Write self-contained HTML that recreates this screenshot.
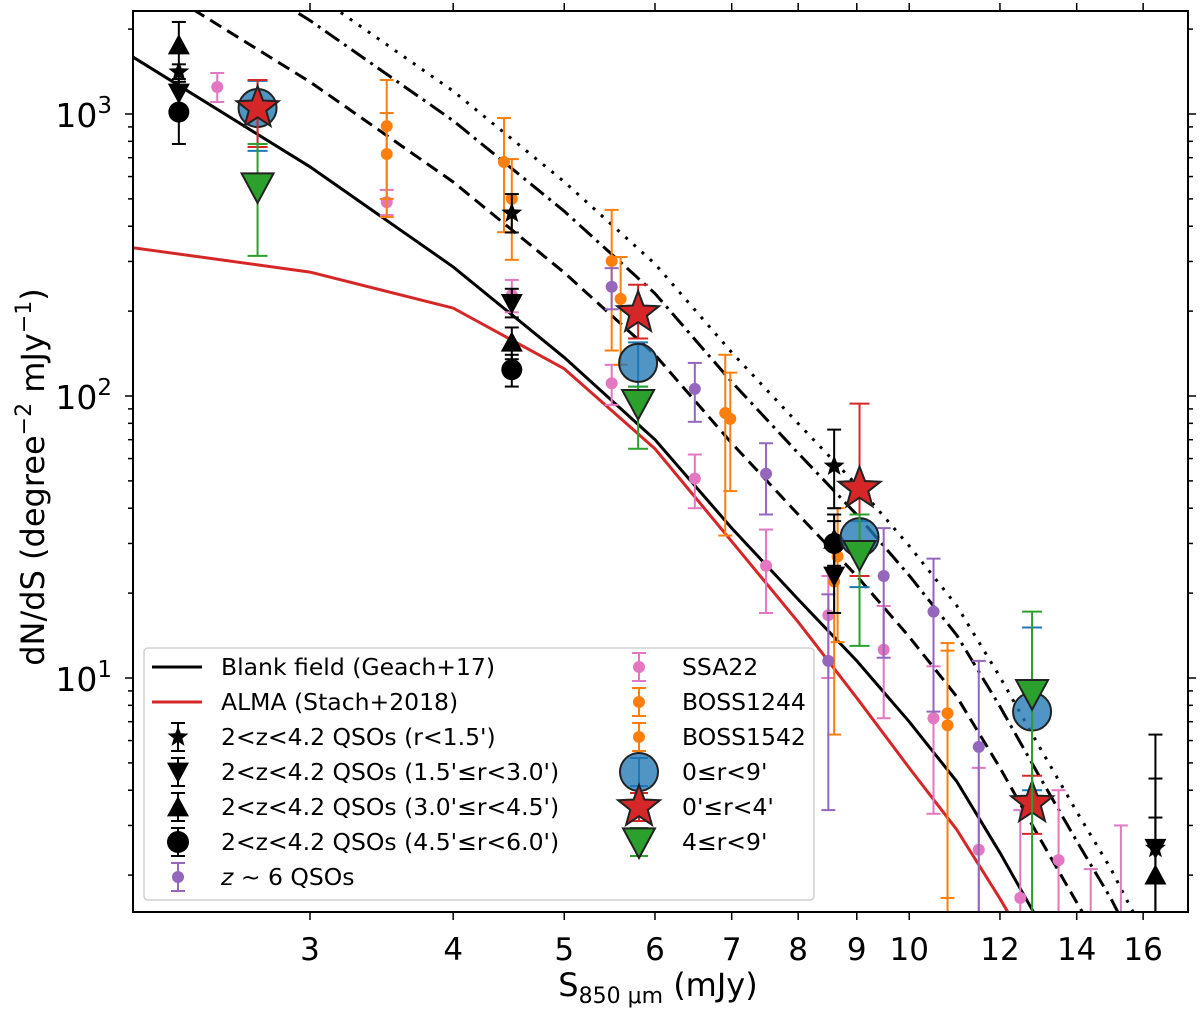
<!DOCTYPE html>
<html><head><meta charset="utf-8"><style>
html,body{margin:0;background:#fff;overflow:hidden;width:1200px;height:1010px;}
svg{display:block;font-family:"DejaVu Sans","Liberation Sans",sans-serif;}
</style></head><body>
<svg id="chart" width="1200" height="1010" viewBox="0 0 1200 1010" xmlns="http://www.w3.org/2000/svg">
<rect width="1200" height="1010" fill="#fff"/>
<g id="plot"></g>
<g id="axes"></g>
<g id="legend"></g>
</svg>
<script>
// ---- data ----
const lineS = [2, 3, 4, 5, 6, 7, 8, 9, 10, 11, 12, 13, 14, 15, 16, 17];
const blankN = [1805, 650, 287, 137, 70, 34, 19, 11.5, 7, 4.3, 2.4, 1.35, 0.8, 0.5, 0.3, 0.2];
const almaS = [2, 3, 4, 5, 6, 7, 8, 9, 10, 11, 12, 13];
const almaN = [345, 275, 205, 125, 65, 30.5, 15.8, 8.5, 4.8, 2.9, 1.65, 0.95];
const scaleFactors = [2, 3.3, 4.2];

const ssaS = [2.49, 3.50, 4.50, 5.50, 6.50, 7.50, 8.50, 9.50, 10.5, 11.5, 12.5, 13.5, 14.4, 15.3];
const ssaN = [1247, 487, 228, 111, 51, 25, 16.7, 12.6, 7.2, 2.46, 1.66, 2.26, 1.2, 1.2];
const ssaLo = [1103, 438, 198, 93, 40, 17, 10, 7.2, 3.3, 1, 1, 1, 0.5, 0.5];
const ssaHi = [1398, 538, 258, 129, 62, 33.6, 23, 18, 11, 4.8, 3.4, 4.0, 2.1, 3.0];

const b1244S = [3.5, 4.43, 5.5, 6.91, 8.66, 10.8];
const b1244N = [906, 676, 301, 87, 27, 7.5];
const b1244Lo = [431, 381, 145, 32, 13.4, 1.66];
const b1244Hi = [1320, 968, 457, 140, 40, 13.3];

const b1542S = [3.5, 4.5, 5.6, 6.98, 8.6, 10.8];
const b1542N = [721, 500, 221, 83, 22, 6.8];
const b1542Lo = [500, 304, 129, 46, 6.3, 1.2];
const b1542Hi = [1008, 692, 311, 121, 38, 12.5];

const z6S = [5.5, 6.5, 7.5, 8.5, 9.5, 10.5, 11.5];
const z6N = [244, 106, 53, 11.5, 23, 17.2, 5.7];
const z6Lo = [203, 81, 38, 3.4, 11.8, 7.6, 1];
const z6Hi = [284, 131, 68, 19.8, 34, 26.5, 11.5];

const qsoS = [2.305, 4.5, 8.6, 16.4];
const qStarN = [1409, 445, 56.4, 2.49];
const qStarLo = [1300, 380, 40, 1];
const qStarHi = [1500, 520, 76, 6.3];
const qDownN = [1187, 213, 23, 2.49];
const qDownLo = [1050, 190, 17, 1];
const qDownHi = [1330, 240, 30, 4.4];
const qUpN = [1757, 155, 31, 2.0];
const qUpLo = [1430, 135, 24, 1];
const qUpHi = [2120, 175, 38, 3.2];
const qCircS = [2.305, 4.5, 8.6];
const qCircN = [1016, 124, 30];
const qCircLo = [783, 108, 25];
const qCircHi = [1250, 140, 36];

const bigS = [2.70, 5.8, 9.05, 12.8];
const allN = [1050, 131, 31.6, 7.6];
const allLo = [740, 108, 21, 4];
const allHi = [1310, 155, 36, 15.1];
const innerN = [1050, 197, 47, 3.6];
const innerLo = [764, 160, 23, 2.8];
const innerHi = [1320, 248, 94, 4.5];
const outerN = [551, 94, 27.4, 8.8];
const outerLo = [314, 65, 13, 1];
const outerHi = [783, 108, 38, 17.2];

const xTickVals = [3, 4, 5, 6, 7, 8, 9, 10, 12, 14, 16];
const xTickLabels = ["3", "4", "5", "6", "7", "8", "9", "10", "12", "14", "16"];
const yMajor = [10, 100, 1000];
const yMajorExp = ["1", "2", "3"];

// ---- geometry ----
const L = 133, R = 1188, T = 11, B = 912;
const PXD = 1146, X0 = 310;
const YPD = 282, Y0 = 114;
function xs(s){ return X0 + PXD * Math.log10(s / 3); }
function ys(n){ return Y0 - YPD * Math.log10(n / 1000); }
const NS = "http://www.w3.org/2000/svg";
function mk(tag, attrs, parent){
  const e = document.createElementNS(NS, tag);
  for (const k in attrs) e.setAttribute(k, attrs[k]);
  parent.appendChild(e);
  return e;
}
const svg = document.getElementById('chart');
const defs = mk('defs', {}, svg);
const cp = mk('clipPath', {id: 'clip'}, defs);
mk('rect', {x: L, y: T, width: R - L, height: B - T}, cp);
const plot = document.getElementById('plot');
plot.setAttribute('clip-path', 'url(#clip)');



function linePath(S, N, f){
  return S.map((s, i) => (i ? 'L' : 'M') + xs(s).toFixed(1) + ',' + ys(N[i] * f).toFixed(1)).join('');
}
const dashes = ['13,7', '17,6,3,6', '3,8'];
scaleFactors.forEach((f, i) => {
  const p = mk('path', {d: linePath(lineS, blankN, f), fill: 'none', stroke: '#000', 'stroke-width': 3, 'stroke-dasharray': dashes[i]}, plot);
  
  
});
const bl = mk('path', {d: linePath(lineS, blankN, 1), fill: 'none', stroke: '#000', 'stroke-width': 3}, plot);


const al = mk('path', {d: linePath(almaS, almaN, 1), fill: 'none', stroke: '#d62728', 'stroke-width': 3}, plot);



function starPts(cx, cy, r){
  let p = [];
  for (let i = 0; i < 10; i++){
    const a = -Math.PI / 2 + i * Math.PI / 5;
    const rr = i % 2 ? r * 0.42 : r;
    p.push((cx + rr * Math.cos(a)).toFixed(1) + ',' + (cy + rr * Math.sin(a)).toFixed(1));
  }
  return p.join(' ');
}
function marker(g, shape, cx, cy, size, fill, stroke, sw){
  let e;
  if (shape === 'circle') e = mk('circle', {cx: cx, cy: cy, r: size, fill: fill, stroke: stroke, 'stroke-width': sw}, g);
  else if (shape === 'up') e = mk('polygon', {points: `${cx},${cy - size} ${cx - size},${cy + size * 0.85} ${cx + size},${cy + size * 0.85}`, fill: fill, stroke: stroke, 'stroke-width': sw}, g);
  else if (shape === 'down') e = mk('polygon', {points: `${cx},${cy + size} ${cx - size},${cy - size * 0.85} ${cx + size},${cy - size * 0.85}`, fill: fill, stroke: stroke, 'stroke-width': sw}, g);
  else e = mk('polygon', {points: starPts(cx, cy, size), fill: fill, stroke: stroke, 'stroke-width': sw}, g);
  return e;
}
function series(name, S, N, Lo, Hi, color, shape, size, mfill, mstroke, sw, cap){
  const g = mk('g', {}, plot);
  
  
  S.forEach((s, i) => {
    const x = xs(s), yl = ys(Lo[i]), yh = ys(Hi[i]);
    mk('line', {x1: x, x2: x, y1: yl, y2: yh, stroke: color, 'stroke-width': 2}, g);
    mk('line', {x1: x - cap, x2: x + cap, y1: yl, y2: yl, stroke: color, 'stroke-width': 2}, g);
    mk('line', {x1: x - cap, x2: x + cap, y1: yh, y2: yh, stroke: color, 'stroke-width': 2}, g);
    const m = marker(g, shape, x, ys(N[i]), size, mfill, mstroke, sw);
    
    
  });
}
series('ssa22', ssaS, ssaN, ssaLo, ssaHi, '#e377c2', 'circle', 6, '#e377c2', 'none', 0, 7);
series('boss1244', b1244S, b1244N, b1244Lo, b1244Hi, '#ff7f0e', 'circle', 6, '#ff7f0e', 'none', 0, 7);
series('boss1542', b1542S, b1542N, b1542Lo, b1542Hi, '#ff7f0e', 'circle', 6, '#ff7f0e', 'none', 0, 7);
series('z6-qsos', z6S, z6N, z6Lo, z6Hi, '#9467bd', 'circle', 6, '#9467bd', 'none', 0, 7);
series('qso-r0-1.5', qsoS, qStarN, qStarLo, qStarHi, '#000', 'star', 11, '#000', 'none', 0, 7);
series('qso-r1.5-3', qsoS, qDownN, qDownLo, qDownHi, '#000', 'down', 11, '#000', 'none', 0, 7);
series('qso-r3-4.5', qsoS, qUpN, qUpLo, qUpHi, '#000', 'up', 11, '#000', 'none', 0, 7);
series('qso-r4.5-6', qCircS, qCircN, qCircLo, qCircHi, '#000', 'circle', 10.5, '#000', 'none', 0, 7);
series('all-r0-9', bigS, allN, allLo, allHi, '#1f77b4', 'circle', 19, 'rgba(31,119,180,0.78)', '#222', 2, 10);
series('inner-r0-4', bigS, innerN, innerLo, innerHi, '#d62728', 'star', 22, '#d62728', '#222', 2, 10);
series('outer-r4-9', bigS, outerN, outerLo, outerHi, '#2ca02c', 'down', 16, '#2ca02c', '#222', 2, 10);

// ---- axes ----
const ax = document.getElementById('axes');
const frame = mk('rect', {x: L, y: T, width: R - L, height: B - T, fill: 'none', stroke: '#000', 'stroke-width': 2}, ax);


xTickVals.forEach((v, i) => {
  const x = xs(v);
  mk('line', {x1: x, x2: x, y1: B, y2: B + 8, stroke: '#000', 'stroke-width': 1.5}, ax);
  mk('line', {x1: x, x2: x, y1: T, y2: T - 8, stroke: '#000', 'stroke-width': 1.5}, ax);
  const t = mk('text', {x: x, y: B + 48, 'font-size': 31, 'text-anchor': 'middle', fill: '#000'}, ax);
  t.textContent = xTickLabels[i];
  
  
});
[1, 10, 100, 1000].forEach(d => {
  for (let k = 1; k < 10; k++){
    const v = d * k;
    const y = ys(v);
    if (y < T - 0.5 || y > B + 0.5) continue;
    const len = k === 1 ? 8 : 5;
    mk('line', {x1: L, x2: L - len, y1: y, y2: y, stroke: '#000', 'stroke-width': 1.5}, ax);
    mk('line', {x1: R, x2: R + len, y1: y, y2: y, stroke: '#000', 'stroke-width': 1.5}, ax);
  }
});
yMajor.forEach((v, i) => {
  const y = ys(v);
  const t = mk('text', {x: 112, y: y + 13, 'font-size': 33, 'text-anchor': 'end', fill: '#000'}, ax);
  
  
  const a = mk('tspan', {}, t); a.textContent = '10';
  const b = mk('tspan', {dy: -14, 'font-size': 23}, t); b.textContent = yMajorExp[i];
});
const xl = mk('text', {x: 658, y: 996, 'font-size': 32, 'text-anchor': 'middle', fill: '#000'}, ax);


xl.innerHTML = 'S<tspan font-size="22" dy="7">850 μm</tspan><tspan dy="-7"> (mJy)</tspan>';
const yl = mk('text', {x: 0, y: 0, 'font-size': 32, 'text-anchor': 'middle', fill: '#000', transform: 'translate(44,477) rotate(-90)'}, ax);


yl.innerHTML = 'dN/dS (degree<tspan font-size="22" dy="-13">−2</tspan><tspan dy="13"> mJy</tspan><tspan font-size="22" dy="-13">−1</tspan><tspan dy="13">)</tspan>';

// ---- legend ----
const lg = document.getElementById('legend');
const lb = mk('rect', {x: 144, y: 648, width: 670, height: 252, rx: 4, fill: 'rgba(255,255,255,0.85)', stroke: '#d0d0d0', 'stroke-width': 1.5}, lg);


const legendRows = [667, 702, 737, 772, 807, 842, 877];
const leftLabels = ['Blank field (Geach+17)', 'ALMA (Stach+2018)', "2<z<4.2 QSOs (r<1.5')", "2<z<4.2 QSOs (1.5'\u2264r<3.0')", "2<z<4.2 QSOs (3.0'\u2264r<4.5')", "2<z<4.2 QSOs (4.5'\u2264r<6.0')", 'z6'];
const rightLabels = ['SSA22', 'BOSS1244', 'BOSS1542', "0\u2264r<9'", "0'\u2264r<4'", "4\u2264r<9'"];
function legText(x, y, s){
  const t = mk('text', {x: x, y: y + 8, 'font-size': 23.5, fill: '#000'}, lg);
  if (s === 'z6') t.innerHTML = '<tspan font-style="italic">z</tspan> ~ 6 QSOs';
  else t.textContent = s;
  return t;
}
function legErr(g, x, y, color, cap){
  mk('line', {x1: x, x2: x, y1: y - 14, y2: y + 14, stroke: color, 'stroke-width': 2}, g);
  mk('line', {x1: x - cap, x2: x + cap, y1: y - 14, y2: y - 14, stroke: color, 'stroke-width': 2}, g);
  mk('line', {x1: x - cap, x2: x + cap, y1: y + 14, y2: y + 14, stroke: color, 'stroke-width': 2}, g);
}
leftLabels.forEach((s, i) => {
  const y = legendRows[i];
  const g = mk('g', {}, lg);
  
  
  if (i === 0) mk('line', {x1: 152, x2: 202, y1: y, y2: y, stroke: '#000', 'stroke-width': 3}, g);
  else if (i === 1) mk('line', {x1: 152, x2: 202, y1: y, y2: y, stroke: '#d62728', 'stroke-width': 3}, g);
  else if (i === 6){ legErr(g, 178, y, '#9467bd', 7); marker(g, 'circle', 178, y, 6, '#9467bd', 'none', 0); }
  else {
    legErr(g, 178, y, '#000', 7);
    marker(g, ['star', 'down', 'up', 'circle'][i - 2], 178, y, 11, '#000', 'none', 0);
  }
  const t = legText(221, y, s);
  
  
});
rightLabels.forEach((s, i) => {
  const y = legendRows[i];
  const g = mk('g', {}, lg);
  
  
  if (i === 0){ legErr(g, 639, y, '#e377c2', 7); marker(g, 'circle', 639, y, 6, '#e377c2', 'none', 0); }
  else if (i < 3){ legErr(g, 639, y, '#ff7f0e', 7); marker(g, 'circle', 639, y, 6, '#ff7f0e', 'none', 0); }
  else if (i === 3){ legErr(g, 639, y, '#1f77b4', 9); marker(g, 'circle', 639, y, 19, 'rgba(31,119,180,0.78)', '#222', 2); }
  else if (i === 4){ legErr(g, 639, y, '#d62728', 9); marker(g, 'star', 639, y, 22, '#d62728', '#222', 2); }
  else { legErr(g, 639, y, '#2ca02c', 9); marker(g, 'down', 639, y, 16, '#2ca02c', '#222', 2); }
  const t = legText(682, y, s);
  
  
});
</script>
</body></html>
